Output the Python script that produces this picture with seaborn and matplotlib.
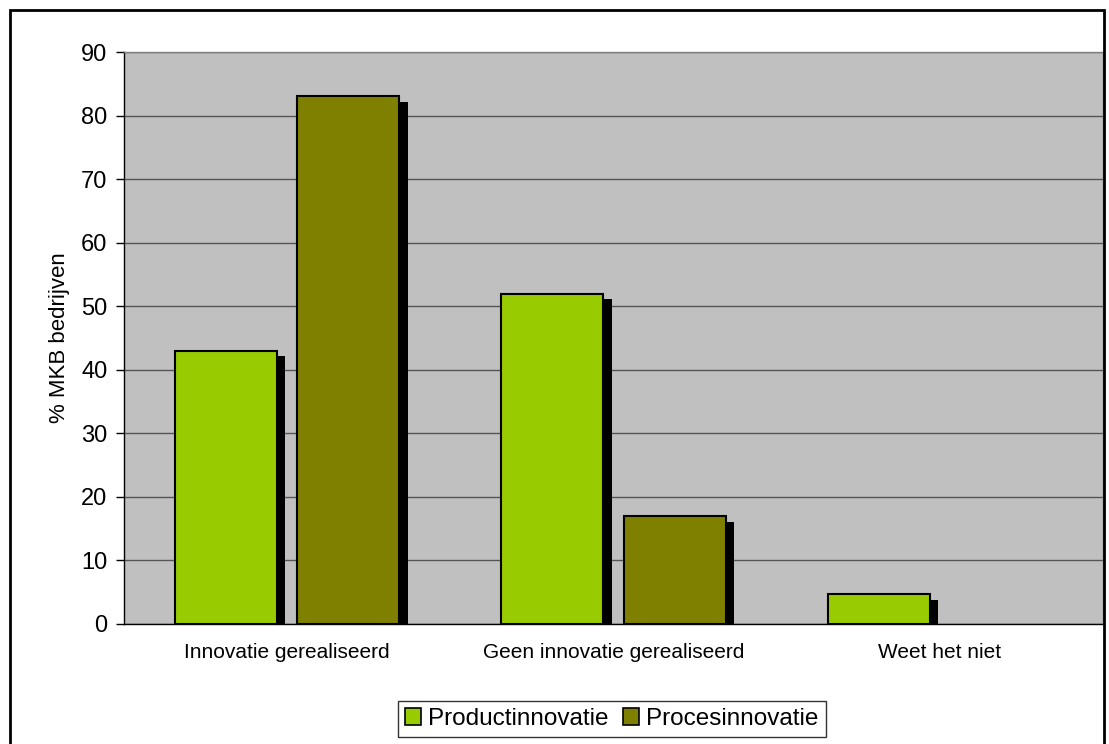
import matplotlib
matplotlib.use("Agg")
import matplotlib.pyplot as plt
import matplotlib.patheffects as pe
from matplotlib.patches import Rectangle
import seaborn as sns
import pandas as pd

categories = ["Innovatie gerealiseerd", "Geen innovatie gerealiseerd", "Weet het niet"]
series = ["Productinnovatie", "Procesinnovatie"]
product_values = [43, 52, 4.7]
proces_values = [83, 17, 0]
y_ticks = [0, 10, 20, 30, 40, 50, 60, 70, 80, 90]
colors = ["#99CC00", "#808000"]

df = pd.DataFrame({
    "cat": categories * 2,
    "serie": [series[0]] * 3 + [series[1]] * 3,
    "val": product_values + proces_values,
})

sns.set_style("white")
plt.rcParams["font.family"] = ["Liberation Sans", "DejaVu Sans"]
plt.rcParams["text.color"] = "black"
plt.rcParams["axes.labelcolor"] = "black"
plt.rcParams["xtick.color"] = "black"
plt.rcParams["ytick.color"] = "black"

fig = plt.figure(figsize=(11.09, 7.44), dpi=100)
ax = fig.add_axes([0.1118, 0.1613, 0.8828, 0.7688])
ax.set_facecolor("#C0C0C0")

sns.barplot(data=df, x="cat", y="val", hue="serie", order=categories,
            hue_order=series, palette=colors, saturation=1,
            width=0.75, gap=0.166, edgecolor="black", linewidth=1.5,
            legend=False, ax=ax, zorder=3)

for p in ax.patches:
    if p.get_height() > 0:
        p.set_path_effects([pe.SimplePatchShadow(offset=(6, -4), shadow_rgbFace="black", alpha=1.0),
                            pe.Normal()])
    else:
        p.set_visible(False)

ax.set_ylim(0, 90)
ax.set_xlim(-0.5, 2.5)
ax.set_yticks(y_ticks)
ax.set_yticklabels([str(t) for t in y_ticks], fontsize=17, color="black")
ax.yaxis.grid(True, color="#555555", linewidth=1, zorder=0)
ax.set_axisbelow(True)

ax.set_xticks([-0.5, 0.5, 1.5, 2.5])
ax.set_xticklabels([])
ax.set_xticks([0, 1, 2], minor=True)
ax.set_xticklabels(categories, minor=True, fontsize=15, color="black")
ax.tick_params(axis="x", which="minor", length=0, pad=14)
ax.tick_params(axis="x", which="major", length=6, width=1, color="black", direction="out")
ax.tick_params(axis="y", length=6, width=1, color="black", direction="out", left=True, pad=6)

ax.set_xlabel("")
ax.set_ylabel("% MKB bedrijven", fontsize=16, labelpad=8, color="black")

for side in ["left", "bottom"]:
    ax.spines[side].set_color("black")
    ax.spines[side].set_linewidth(1)
for side in ["top", "right"]:
    ax.spines[side].set_color("#808080")
    ax.spines[side].set_linewidth(1)

handles = [Rectangle((0, 0), 1, 1, facecolor=c, edgecolor="black", linewidth=1.2) for c in colors]
leg = fig.legend(handles, series, loc="center", bbox_to_anchor=(612 / 1109, 1 - 719 / 744),
                 ncol=2, fontsize=17.5, frameon=True, fancybox=False, edgecolor="black",
                 handlelength=0.65, handleheight=0.65, handletextpad=0.3, columnspacing=0.6,
                 borderpad=0.3, borderaxespad=0)
leg.get_frame().set_linewidth(1)
leg.get_frame().set_facecolor("white")
for t in leg.get_texts():
    t.set_color("black")

fig.patches.append(Rectangle((10 / 1109, -0.01), 1094 / 1109, 1 - 10 / 744 + 0.01,
                             transform=fig.transFigure, fill=False, edgecolor="black",
                             linewidth=2, zorder=10))

fig.savefig("out.png", dpi=100)
